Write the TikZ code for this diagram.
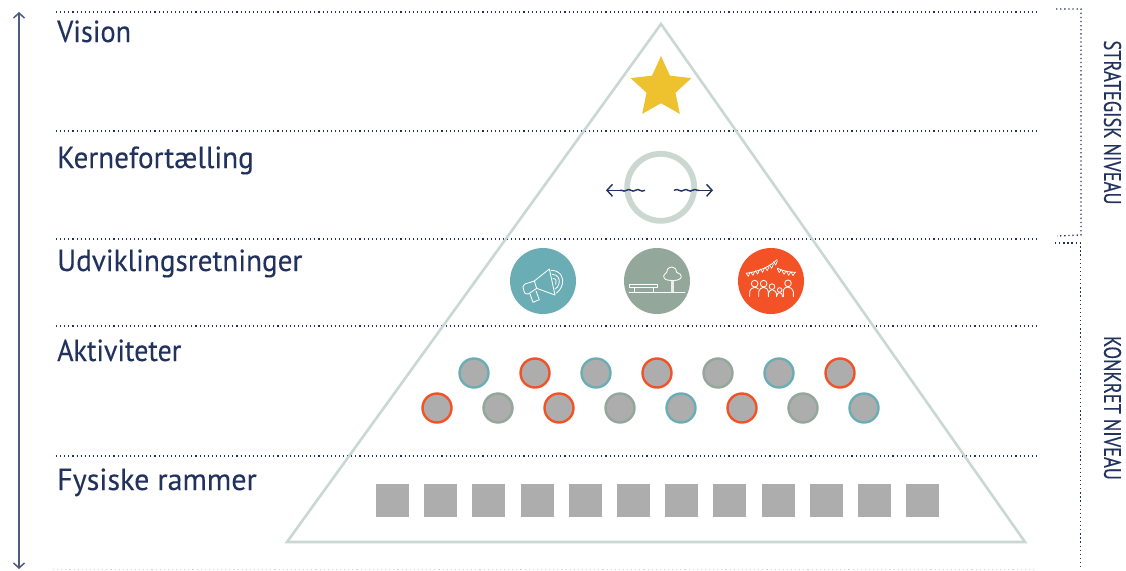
\documentclass[tikz,border=0pt]{standalone}
\usepackage{fontspec}
\setmainfont{PT Sans}
\newfontfamily\labfont[FakeBold=0.12]{PT Sans}
\newfontfamily\sidefont[FakeBold=0.35]{PT Sans}
\usetikzlibrary{arrows.meta,decorations.pathmorphing,shapes.geometric}
\definecolor{navy}{HTML}{22325F}
\definecolor{tri}{HTML}{CBD8D2}
\definecolor{teal}{HTML}{6AADB5}
\definecolor{sage}{HTML}{93A79A}
\definecolor{orng}{HTML}{F25225}
\definecolor{gry}{HTML}{ADADAD}
\definecolor{gold}{HTML}{EDC22E}
\tikzset{
 level/.style={draw=navy,line width=1.1pt,dash pattern=on 1.1pt off 3pt},
 brk/.style={draw=navy,line width=1.3pt,dash pattern=on 1.3pt off 2.8pt},
 lab/.style={anchor=base west,inner sep=0pt,text=navy,font=\labfont\fontsize{30.5}{30}\selectfont},
 side/.style={rotate=-90,inner sep=0pt,text=navy,font=\sidefont\fontsize{24}{24}\selectfont},
 act/.style={circle,fill=gry,draw=#1,line width=2.4pt,minimum size=29pt,inner sep=0pt},
 big/.style={circle,fill=#1,minimum size=66pt,inner sep=0pt},
 sq/.style={fill=gry,minimum size=33pt,inner sep=0pt},
 ico/.style={draw=white,line width=0.85pt,line join=round,line cap=round},
 wave/.style={navy,line width=1.4pt,decorate,decoration={snake,amplitude=.8pt,segment length=9pt}},
 barb/.style={navy,line width=1.4pt,-{Straight Barb[length=5.5pt,width=12pt]}},
 zoomed/.style={shift={#1},x=.3333pt,y=-.3333pt},
}
\begin{document}
\begin{tikzpicture}[x=1pt,y=-1pt]
\useasboundingbox (0,0) rectangle (1126,570);
\fill[white] (0,0) rectangle (1126,570);
\coordinate (upper) at (19,12); \coordinate (lower) at (19,569);
\draw[navy!80,line width=1.5pt,{Straight Barb[length=5pt,width=11pt]}-{Straight Barb[length=5pt,width=11pt]}] (upper) -- (lower);
\foreach \y in {12,131,239,326,456}{\draw[level] (56,\y) -- (1036,\y);}
\draw[level,draw=tri] (53,569.5) -- (1036,569.5);
\draw[tri,line width=2.6pt,line join=miter] (661,24) -- (1025,542) -- (287,542) -- cycle;
\node[lab] (vision) at (57,42) {\scalebox{.93}[1]{Vision}};
\node[lab] (kerne) at (57,168) {\scalebox{.955}[1]{Kernefortælling}};
\node[lab] (udv) at (57,271) {\scalebox{.955}[1]{Udviklingsretninger}};
\node[lab] (akt) at (57,361) {\scalebox{.918}[1]{Aktiviteter}};
\node[lab] (fys) at (57,490) {\scalebox{.985}[1]{Fysiske rammer}};
\node[side] (strat) at (1112.5,122.5) {\scalebox{.77}[1]{STRATEGISK NIVEAU}};
\node[side] (konk) at (1112.5,408) {\scalebox{.77}[1]{KONKRET NIVEAU}};
\draw[brk] (1056,9) -- (1081,9) -- (1081,235) -- (1057,236);
\draw[brk] (1055,243) -- (1080.5,243) -- (1080.5,570);
\node[star,star points=5,star point ratio=2.1,fill=gold,minimum size=64pt,inner sep=0pt] (st) at (661,88) {};
\node[circle,draw=tri,line width=5.8pt,minimum size=67pt,inner sep=0pt] (ring) at (660.7,187.3) {};
\coordinate (la) at (606,190.3); \coordinate (lm) at (620,190.3); \coordinate (lb) at (645,190.3);
\coordinate (ra) at (674,190.3); \coordinate (rm) at (699,190.3); \coordinate (rb) at (713,190.3);
\draw[wave] (lb) -- (lm);
\draw[barb] (lm) -- (la);
\draw[wave] (ra) -- (rm);
\draw[barb] (rm) -- (rb);
\node[big=teal] (b1) at (543,281) {};
\node[big=sage] (b2) at (657,281) {};
\node[big=orng] (b3) at (771,281) {};
% megaphone
\begin{scope}[zoomed={(505,245)}]
 \draw[ico] (133,72) -- (150,150) -- (95,130) -- (88,108) -- cycle;
 \draw[ico] (88,108) -- (60,117) .. controls (52,120) and (53,128) .. (56,135) .. controls (58,145) and (62,150) .. (70,147) -- (95,130);
 \draw[ico] (75,147) -- (84,172) -- (103,164) -- (93,138);
 \draw[ico] (139,76) .. controls (165,76) and (178,98) .. (172,118) .. controls (168,132) and (160,140) .. (154,144);
 \draw[ico] (142,88) .. controls (158,88) and (166,102) .. (162,116) .. controls (160,124) and (155,130) .. (150,132);
 \draw[ico] (144,100) .. controls (154,100) and (156,112) .. (152,118);
\end{scope}
% bench and tree
\begin{scope}[zoomed={(620,245)}]
 \draw[ico] (27,142) -- (195,142);
 \draw[ico] (28,117) rectangle (113,127);
 \draw[ico] (43,127) -- (43,142) (100,127) -- (100,142);
 \draw[ico,draw=white!80!sage,line width=2.6pt,line cap=butt] (158,106) -- (158,142);
 \draw[ico] plot[smooth cycle,tension=.6] coordinates {(150,106) (136,103) (131,92) (140,82) (143,72) (155,66) (167,72) (170,82) (181,88) (183,98) (173,105) (160,107)};
\end{scope}
% party
\begin{scope}[zoomed={(733,245)}]
 \draw[ico] (40,85) .. controls (75,80) and (110,66) .. (132,44);
 \foreach \x/\y in {45/84,59/81,73/77,88/72,102/67,115/60,127/50}
  \draw[ico,line width=.7pt] (\x-6,\y) -- (\x+1,\y+10) -- (\x+6,\y-2);
 \draw[ico] (133,70) .. controls (150,78) and (170,82) .. (188,82);
 \foreach \x/\y in {139/73,153/78,167/81,180/82}
  \draw[ico,line width=.7pt] (\x-6,\y-1) -- (\x,\y+10) -- (\x+6,\y);
 \draw[ico] (65,116) circle[radius=10] (92,116) circle[radius=10] (117,125) circle[radius=8.5] (140,135) circle[radius=7] (165,115) circle[radius=10];
 \draw[ico] (50,155) -- (50,143) .. controls (50,132) and (58,128) .. (65,127) .. controls (70,128) and (74,129) .. (76,132);
 \draw[ico] (77,155) -- (77,140) .. controls (78,132) and (85,128) .. (92,127) .. controls (100,128) and (106,133) .. (106,140) -- (106,155);
 \draw[ico] (106,148) .. controls (108,138) and (112,135) .. (117,134) .. controls (123,135) and (130,140) .. (131,146) -- (131,155);
 \draw[ico] (131,152) .. controls (133,146) and (136,143) .. (140,143) .. controls (145,143) and (148,147) .. (148,152) -- (148,155);
 \draw[ico] (151,155) -- (151,135) .. controls (153,129) and (158,127) .. (165,126) .. controls (173,127) and (180,132) .. (181,140) -- (181,155);
\end{scope}
\foreach \x/\c [count=\i] in {474/teal,535/orng,596/teal,657/orng,718/sage,779/teal,840/orng}
 \node[act=\c] (r\i) at (\x,373) {};
\foreach \x/\c [count=\i] in {437/orng,498/sage,559/orng,620/sage,681/teal,742/orng,803/sage,864/teal}
 \node[act=\c] (s\i) at (\x,408) {};
\foreach \i in {0,...,11}
 \node[sq] (q\i) at ({392.5+48.2*\i},500.5) {};
\end{tikzpicture}
\end{document}
